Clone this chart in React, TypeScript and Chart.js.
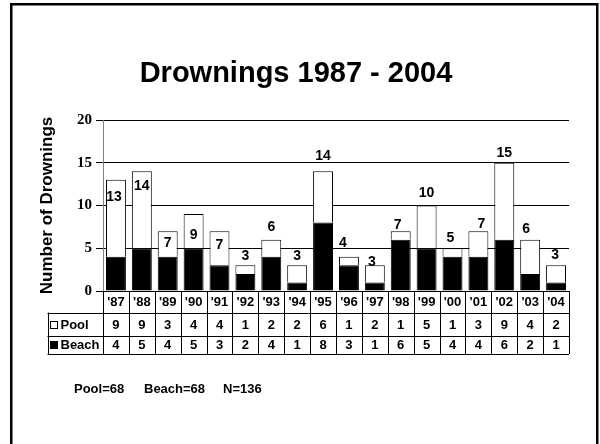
import React, { useEffect, useRef } from "react";
import { Chart, registerables } from "chart.js";

Chart.register(...registerables);

// ---- data ----
const years = ["'87", "'88", "'89", "'90", "'91", "'92", "'93", "'94", "'95", "'96", "'97", "'98", "'99", "'00", "'01", "'02", "'03", "'04"];
const pool = [9, 9, 3, 4, 4, 1, 2, 2, 6, 1, 2, 1, 5, 1, 3, 9, 4, 2];
const beach = [4, 5, 4, 5, 3, 2, 4, 1, 8, 3, 1, 6, 5, 4, 4, 6, 2, 1];
const seriesNames = ["Pool", "Beach"];
const yMin = 0;
const yMax = 20;
const yStep = 5;
const titleText = "Drownings 1987 - 2004";
const yTitleText = "Number of Drownings";
const footerTexts = ["Pool=68", "Beach=68", "N=136"];

// label placement nudges relative to bar top (px): [dx, dy], dy>0 = inside the bar
const labelNudge: [number, number][] = [
  [-2, 17], [0, 15], [0, 12], [0, 21], [0, 14], [0, -9], [0, -13], [0, -9], [0, -15],
  [-6, -14], [-3, -3], [-3, -6], [0, -12], [-2, -10], [3, -7], [0, -10], [-4, -11], [-1, -10],
];

const SANS = "'Liberation Sans', Arial, sans-serif";
const SERIF = "'Liberation Serif', 'Times New Roman', serif";

const decorPlugin = {
  id: "decor",
  afterDraw(chart: any) {
    const ctx = chart.ctx as CanvasRenderingContext2D;
    const area = chart.chartArea;
    const x = chart.scales.x;
    const y = chart.scales.y;
    const n = years.length;
    const cw = (area.right - area.left) / n;
    ctx.save();

    // outer frame
    ctx.strokeStyle = "#000";
    ctx.lineWidth = 2.5;
    ctx.strokeRect(11.25, 4.25, 586, 470);

    // title
    ctx.fillStyle = "#000";
    ctx.font = `bold 29px ${SANS}`;
    ctx.textAlign = "center";
    ctx.textBaseline = "alphabetic";
    ctx.fillText(titleText, 296, 82);

    // y title
    ctx.save();
    ctx.translate(47, (area.top + area.bottom) / 2);
    ctx.rotate(-Math.PI / 2);
    ctx.font = `bold 17px ${SANS}`;
    ctx.textAlign = "center";
    ctx.textBaseline = "middle";
    ctx.fillText(yTitleText, 0, 0);
    ctx.restore();

    // bar total labels
    ctx.font = `bold 14px ${SANS}`;
    ctx.textAlign = "center";
    ctx.textBaseline = "middle";
    for (let i = 0; i < n; i++) {
      const total = pool[i] + beach[i];
      const px = x.getPixelForValue(i) + labelNudge[i][0];
      const py = y.getPixelForValue(total) + labelNudge[i][1];
      ctx.fillText(String(total), px, py);
    }

    // table
    const r0 = area.bottom;
    const r1 = r0 + 21.5;
    const r2 = r1 + 23;
    const r3 = r2 + 18.5;
    const labLeft = 47.5;
    const L = area.left;
    const R = area.right;
    ctx.strokeStyle = "#000";
    ctx.lineWidth = 1;
    const hl = (yy: number, x0: number, x1: number) => {
      ctx.beginPath();
      ctx.moveTo(x0, Math.round(yy) + 0.5);
      ctx.lineTo(x1, Math.round(yy) + 0.5);
      ctx.stroke();
    };
    const vl = (xx: number, y0: number, y1: number) => {
      ctx.beginPath();
      ctx.moveTo(Math.round(xx) + 0.5, y0);
      ctx.lineTo(Math.round(xx) + 0.5, y1);
      ctx.stroke();
    };
    hl(r1, labLeft, R);
    hl(r2, labLeft, R);
    hl(r3, labLeft, R);
    vl(labLeft, r1, r3);
    for (let i = 0; i <= n; i++) {
      vl(L + i * cw, r0, r3);
    }
    ctx.font = `bold 13px ${SANS}`;
    ctx.textAlign = "center";
    ctx.textBaseline = "middle";
    for (let i = 0; i < n; i++) {
      const cx = L + (i + 0.5) * cw;
      ctx.fillText(years[i], cx, (r0 + r1) / 2 + 1);
      ctx.fillText(String(pool[i]), cx, (r1 + r2) / 2 + 1);
      ctx.fillText(String(beach[i]), cx, (r2 + r3) / 2 + 1);
    }
    // legend keys
    ctx.textAlign = "left";
    const sq = 7;
    const rows = [(r1 + r2) / 2, (r2 + r3) / 2];
    rows.forEach((cy, k) => {
      const sx = 50.5;
      ctx.fillStyle = k === 0 ? "#fff" : "#000";
      ctx.fillRect(sx, Math.round(cy - sq / 2) + 0.5, sq, sq);
      ctx.strokeStyle = "#000";
      ctx.strokeRect(sx, Math.round(cy - sq / 2) + 0.5, sq, sq);
      ctx.fillStyle = "#000";
      ctx.font = `bold 13px ${SANS}`;
      ctx.fillText(seriesNames[k], sx + sq + 3, cy + 1);
    });

    // footer
    ctx.font = `bold 13px ${SANS}`;
    ctx.textBaseline = "alphabetic";
    ctx.textAlign = "left";
    const fx = [74, 144, 223];
    footerTexts.forEach((t, k) => ctx.fillText(t, fx[k], 393));

    ctx.restore();
  },
};

export default function App() {
  const ref = useRef<HTMLCanvasElement>(null);
  useEffect(() => {
    if (!ref.current) return;
    const chart = new Chart(ref.current, {
      type: "bar",
      data: {
        labels: years,
        datasets: [
          {
            label: seriesNames[1],
            data: beach,
            backgroundColor: "#000",
            borderColor: "#000",
            borderWidth: 1,
            categoryPercentage: 0.77,
            barPercentage: 1,
          },
          {
            label: seriesNames[0],
            data: pool,
            backgroundColor: "#fff",
            borderColor: "#000",
            borderWidth: 1,
            categoryPercentage: 0.77,
            barPercentage: 1,
          },
        ],
      },
      options: {
        responsive: false,
        animation: false,
        events: [],
        layout: { padding: { left: 0, top: 120, right: 31, bottom: 153 } },
        plugins: {
          legend: { display: false },
          title: { display: false },
          tooltip: { enabled: false },
        },
        scales: {
          x: {
            stacked: true,
            ticks: { display: false },
            grid: { display: false, drawTicks: false },
            border: { display: false },
            afterFit: (s: any) => {
              s.height = 0;
            },
          },
          y: {
            stacked: true,
            min: yMin,
            max: yMax,
            ticks: {
              stepSize: yStep,
              color: "#000",
              padding: 4,
              font: { family: SERIF, size: 15, weight: "bold" },
            },
            grid: { color: "#000", lineWidth: 1, tickLength: 7, drawTicks: true },
            border: { color: "#808080", width: 1 },
            afterFit: (s: any) => {
              s.width = 103;
            },
          },
        },
      },
      plugins: [decorPlugin],
    });
    return () => chart.destroy();
  }, []);
  return (
    <div style={{ position: "absolute", left: 0, top: 0, width: 600, height: 444, background: "#fff" }}>
      <canvas ref={ref} width={600} height={444} style={{ display: "block" }} />
    </div>
  );
}
